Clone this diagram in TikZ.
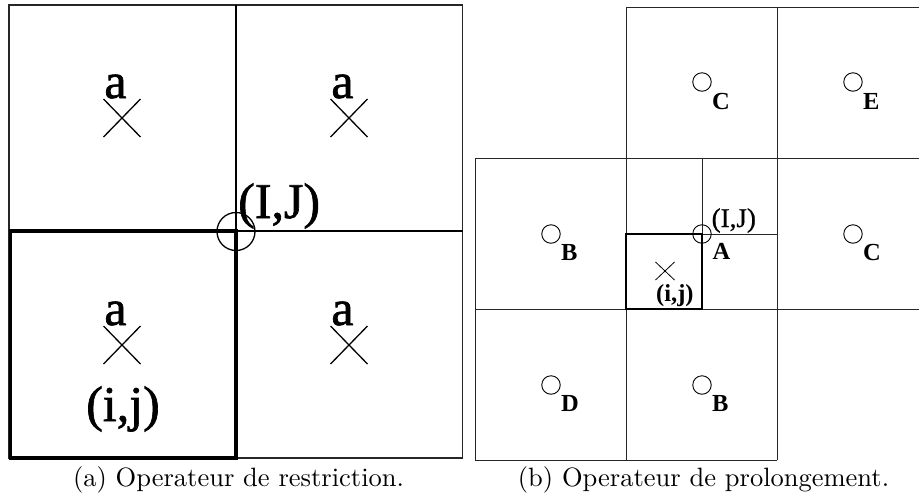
\documentclass[tikz,border=0pt]{standalone}
\usepackage{fontspec}
\newfontfamily\tms{Liberation Serif}[FakeBold=1.3]
\newfontfamily\tmsm{Liberation Serif}[FakeBold=0.8]
\newfontfamily\tmsb{Liberation Serif Bold}
\newfontfamily\capfont{lmroman10-regular.otf}
\begin{document}
\begin{tikzpicture}[x=1pt,y=-1pt,
  thinln/.style={line width=1.2pt, black!85},
  midln/.style={line width=2pt},
  thickln/.style={line width=3.5pt},
  gridln/.style={line width=1pt, black!85},
  subln/.style={line width=1.6pt},
  crossln/.style={line width=1.3pt},
  smallcross/.style={line width=0.8pt},
  biglbl/.style={font=\fontsize{50}{50}\selectfont\tms, inner sep=0pt, anchor=base},
  smalllbl/.style={font=\fontsize{24.5}{24.5}\selectfont\tmsb, inner sep=0pt, anchor=base west},
  smallreg/.style={font=\fontsize{27}{27}\selectfont\tmsm, inner sep=0pt, anchor=base west},
  caplbl/.style={font=\fontsize{26.5}{26.5}\selectfont\capfont, inner sep=0pt, anchor=base},
  bigcirc/.style={draw, circle, line width=1.3pt, minimum size=38pt, inner sep=0pt},
  smallcirc/.style={draw, circle, line width=0.9pt, minimum size=18.5pt, inner sep=0pt}
]
\useasboundingbox (0,0) rectangle (919,496);

% ---------- (a) left panel ----------
\draw[thinln] (9,5) rectangle (462.5,458);
\draw[midln] (236,5) -- (236,231) -- (462.5,231);
\draw[thickln] (10.5,231) rectangle (236,458);
\node[bigcirc] (IJcirc) at (236,231.5) {};
\node[biglbl, anchor=base west] (IJ) at (238,218) {(I,J)};

\foreach \cx/\cy/\n/\ay in {122/118/ul/98, 349/118/ur/98, 122/345/ll/325, 349/345/lr/325}{
  \draw[crossln] (\cx,\cy) +(-18.5,-19) -- +(18.5,19) +(-18.5,19) -- +(18.5,-19);
  \node[biglbl] (a\n) at (\cx-6.5,\ay) {a};
}
\node[biglbl] (ij) at (123,421) {(i,j)};

\node[caplbl] (capa) at (238.5,486) {(a) Operateur de restriction.};

% ---------- (b) right panel ----------
\draw[gridln] (626,7) -- (919,7)
  (475,158) -- (919,158)
  (475,309) -- (919,309)
  (475,460) -- (777,460)
  (475,158) -- (475,460)
  (626,7) -- (626,460)
  (777,7) -- (777,460)
  (702,158) -- (702,234)
  (626,234) -- (777,234);
\draw[subln] (626,234) rectangle (702,309);

\node[smallcirc] (cA) at (702,234) {};
\node[smallreg] (lIJ) at (711.5,227) {(I,J)};
\node[smalllbl] (lA) at (712.5,259) {A};
\draw[smallcross] (665,271) +(-9.5,-9) -- +(9.5,9) +(-9.5,9) -- +(9.5,-9);
\node[smalllbl] (lij) at (656,301) {(i,j)};

\node[smallcirc] (cC1) at (702,82) {};
\node[smalllbl] (lC1) at (712,109) {C};
\node[smallcirc] (cE) at (853,82) {};
\node[smalllbl] (lE) at (863,109) {E};
\node[smallcirc] (cB1) at (551,234) {};
\node[smalllbl] (lB1) at (561,260) {B};
\node[smallcirc] (cC2) at (853,234) {};
\node[smalllbl] (lC2) at (863,260) {C};
\node[smallcirc] (cD) at (551,385) {};
\node[smalllbl] (lD) at (561,411) {D};
\node[smallcirc] (cB2) at (702,385) {};
\node[smalllbl] (lB2) at (712,411) {B};

\node[caplbl] (capb) at (703.5,486) {(b) Operateur de prolongement.};
\end{tikzpicture}
\end{document}
